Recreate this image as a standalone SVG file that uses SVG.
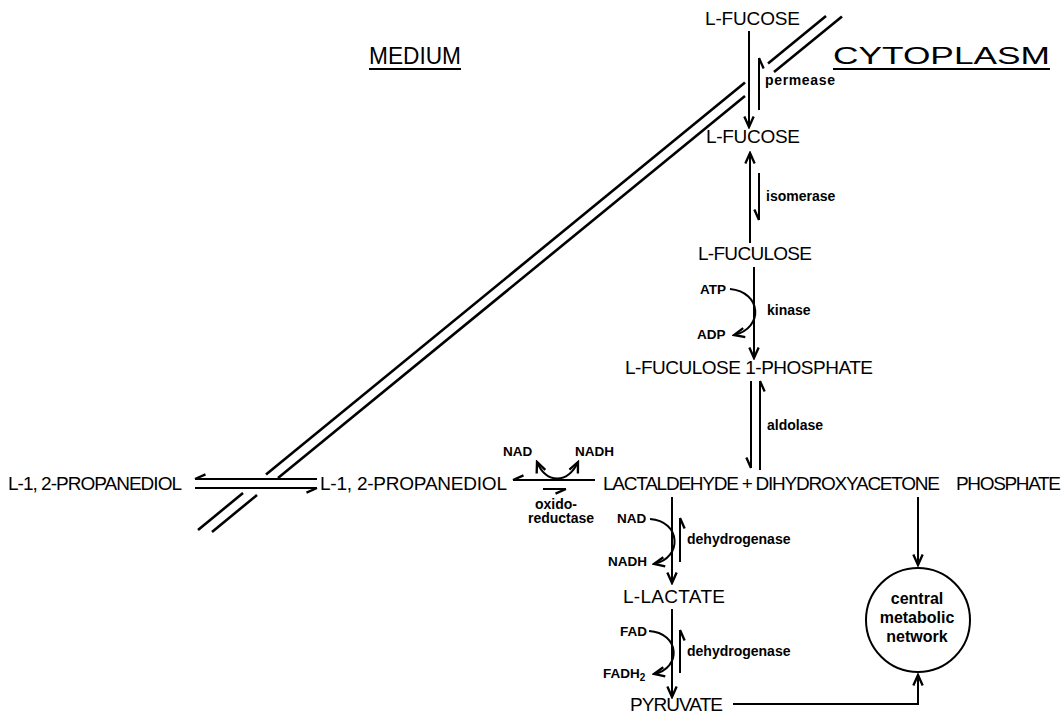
<svg xmlns="http://www.w3.org/2000/svg" width="1064" height="714" viewBox="0 0 1064 714">
<style>
  .m { font-family: "Liberation Sans", Arial, sans-serif; font-size: 19px; fill: #000; }
  .h { font-family: "Liberation Sans", Arial, sans-serif; font-size: 24px; fill: #000; }
  .l { font-family: "Liberation Sans", Arial, sans-serif; font-size: 14px; font-weight: bold; fill: #000; }
  .c { font-family: "Liberation Sans", Arial, sans-serif; font-size: 13.5px; font-weight: bold; fill: #000; }
  .n { font-family: "Liberation Sans", Arial, sans-serif; font-size: 16px; font-weight: bold; fill: #000; text-anchor: middle; }
  .ln { stroke: #000; stroke-width: 2; fill: none; }
  .mem { stroke: #000; stroke-width: 2.6; fill: none; }
  .a { marker-end: url(#arr); }
  .hp { marker-end: url(#harp); }
</style>
<defs>
  <marker id="arr" markerUnits="userSpaceOnUse" markerWidth="14" markerHeight="14" refX="10" refY="5" orient="auto" viewBox="0 0 12 10">
    <path d="M1,1 L10,5 L1,9" fill="none" stroke="#000" stroke-width="2"/>
  </marker>
  <marker id="arrs" markerUnits="userSpaceOnUse" markerWidth="14" markerHeight="14" refX="10" refY="5" orient="auto-start-reverse" viewBox="0 0 12 10">
    <path d="M1,1 L10,5 L1,9" fill="none" stroke="#000" stroke-width="2"/>
  </marker>
  <marker id="harp" markerUnits="userSpaceOnUse" markerWidth="14" markerHeight="14" refX="10" refY="2" orient="auto" viewBox="0 0 12 8">
    <path d="M10,2 L1,6" fill="none" stroke="#000" stroke-width="2"/>
  </marker>
</defs>
<rect width="1064" height="714" fill="#fff"/>

<g id="membrane">
  <line class="mem" x1="198" y1="530" x2="243" y2="493"/>
  <line class="mem" x1="266" y1="474.5" x2="745" y2="82.5"/>
  <line class="mem" x1="768" y1="63.5" x2="826" y2="16"/>
  <line class="mem" x1="212" y1="532" x2="257" y2="495"/>
  <line class="mem" x1="278" y1="478" x2="745" y2="96"/>
  <line class="mem" x1="774" y1="72" x2="842" y2="16.5"/>
</g>

<g id="label-medium">
  <text class="h" x="369" y="64" textLength="92" lengthAdjust="spacingAndGlyphs">MEDIUM</text>
  <line x1="369" y1="69" x2="461" y2="69" stroke="#000" stroke-width="1.8"/>
</g>
<g id="label-cytoplasm">
  <text class="h" x="833" y="64" textLength="217" lengthAdjust="spacingAndGlyphs">CYTOPLASM</text>
  <line x1="833" y1="69" x2="1050" y2="69" stroke="#000" stroke-width="1.8"/>
</g>

<g id="fucose-out"><text class="m" x="705" y="25" textLength="95">L-FUCOSE</text></g>
<g id="fucose-in"><text class="m" x="706" y="143" textLength="94">L-FUCOSE</text></g>
<g id="fuculose"><text class="m" x="698" y="260" textLength="114">L-FUCULOSE</text></g>
<g id="fuculose-1p"><text class="m" x="625" y="374" textLength="248">L-FUCULOSE 1-PHOSPHATE</text></g>
<g id="lactaldehyde-dhap">
  <text class="m" x="603" y="490" textLength="337">LACTALDEHYDE + DIHYDROXYACETONE</text>
  <text class="m" x="956" y="490" textLength="105">PHOSPHATE</text>
</g>
<g id="propanediol-in"><text class="m" x="320" y="490" textLength="187">L-1, 2-PROPANEDIOL</text></g>
<g id="propanediol-out"><text class="m" x="8" y="490" textLength="174">L-1, 2-PROPANEDIOL</text></g>
<g id="lactate"><text class="m" x="623" y="603" textLength="102">L-LACTATE</text></g>
<g id="pyruvate"><text class="m" x="630" y="711" textLength="93">PYRUVATE</text></g>
<g id="central-network">
  <circle cx="918" cy="620" r="52" fill="none" stroke="#000" stroke-width="2"/>
  <text class="n" x="917" y="604">central</text>
  <text class="n" x="917" y="623">metabolic</text>
  <text class="n" x="917" y="642">network</text>
</g>

<g id="enzyme-labels">
  <text class="l" x="765" y="85" textLength="70">permease</text>
  <text class="l" x="766" y="201">isomerase</text>
  <text class="l" x="767" y="315">kinase</text>
  <text class="l" x="767" y="430">aldolase</text>
  <text class="l" x="535" y="509">oxido-</text>
  <text class="l" x="528" y="523">reductase</text>
  <text class="l" x="687" y="544">dehydrogenase</text>
  <text class="l" x="687" y="656">dehydrogenase</text>
</g>
<g id="cofactors">
  <text class="c" x="700" y="294">ATP</text>
  <text class="c" x="697" y="339">ADP</text>
  <text class="c" x="503" y="456">NAD</text>
  <text class="c" x="575" y="456">NADH</text>
  <text class="c" x="617" y="523">NAD</text>
  <text class="c" x="608" y="566">NADH</text>
  <text class="c" x="620" y="636">FAD</text>
  <text class="c" x="603" y="678">FADH<tspan font-size="10" dy="3">2</tspan></text>
</g>

<g id="connectors">
  <!-- permease -->
  <line class="ln a" x1="749" y1="31" x2="749" y2="127"/>
  <line class="ln hp" x1="759" y1="110" x2="759" y2="58"/>
  <!-- isomerase -->
  <line class="ln a" x1="750" y1="243" x2="750" y2="153"/>
  <line class="ln hp" x1="759" y1="173" x2="759" y2="220"/>
  <!-- kinase -->
  <line class="ln a" x1="754" y1="267" x2="754" y2="358"/>
  <path class="ln a" d="M730,289 C762,292 764,328 734,335"/>
  <!-- aldolase -->
  <line class="ln hp" x1="751" y1="381" x2="751" y2="468"/>
  <line class="ln hp" x1="760" y1="470" x2="760" y2="381"/>
  <!-- oxidoreductase -->
  <line class="ln hp" x1="595" y1="480" x2="513" y2="480"/>
  <line class="ln hp" x1="543" y1="489" x2="566" y2="489"/>
  <path class="ln" d="M537,462 C546,484 568,484 578,462" marker-start="url(#arrs)" marker-end="url(#arr)"/>
  <!-- propanediol transport -->
  <line class="ln hp" x1="317" y1="479" x2="195" y2="479"/>
  <line class="ln hp" x1="195" y1="488" x2="317" y2="488"/>
  <!-- lactaldehyde dehydrogenase -->
  <line class="ln a" x1="672" y1="497" x2="672" y2="583"/>
  <line class="ln hp" x1="680" y1="562" x2="680" y2="518"/>
  <path class="ln a" d="M650,519 C681,521 683,558 654,564"/>
  <!-- lactate dehydrogenase -->
  <line class="ln a" x1="672" y1="609" x2="672" y2="697"/>
  <line class="ln hp" x1="680" y1="673" x2="680" y2="630"/>
  <path class="ln a" d="M649,631 C680,633 682,668 654,674"/>
  <!-- to central network -->
  <line class="ln a" x1="918" y1="497" x2="918" y2="565"/>
  <path class="ln a" d="M733,704 L918,704 L918,675"/>
</g>
</svg>
